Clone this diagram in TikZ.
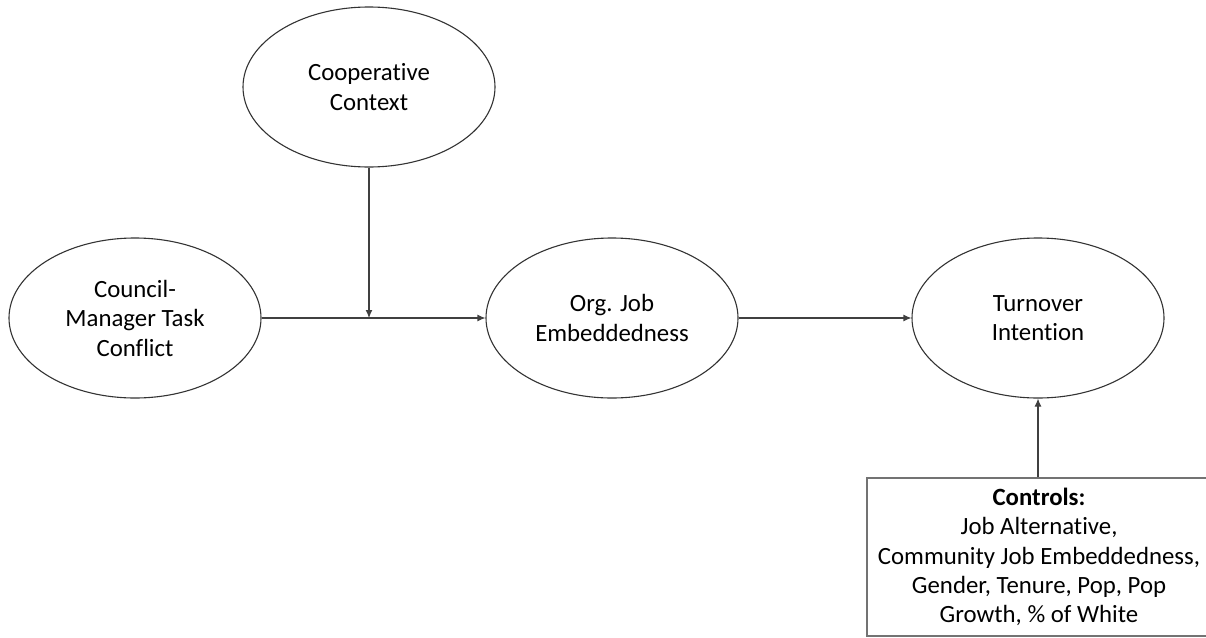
\documentclass[tikz,border=0pt]{standalone}
\usepackage{fontspec}
\setmainfont{Carlito}[Ligatures=NoCommon]
\usepackage{tikz}
\usetikzlibrary{arrows.meta,shapes.geometric}

\begin{document}
\begin{tikzpicture}[x=1pt,y=-1pt,
    construct/.style={draw=black!80,line width=1.1pt,ellipse,minimum width=252pt,minimum height=160pt,inner sep=0pt,align=center,font=\fontsize{24.8}{29.5}\selectfont},
    ctrlbox/.style={draw=black!55,line width=1.2pt,minimum width=344pt,minimum height=158pt,inner sep=0pt,align=center,font=\fontsize{24.8}{29.2}\selectfont},
    path/.style={draw=black!75,line width=1.1pt,-{Latex[length=8pt,width=7pt]}}]
        \useasboundingbox (0,0) rectangle (1206,637);
        \node[construct] (coop) at (369,87) {Cooperative\\Context};
        \node[construct] (conf) at (135,318) {Council-\\Manager Task\\Conflict};
        \node[construct] (emb) at (612,318) {Org. Job\\Embeddedness};
        \node[construct] (turn) at (1038,318) {Turnover\\Intention};
        \node[ctrlbox] (ctrl) at (1039,557) {\textbf{Controls:}\\Job Alternative,\\Community Job Embeddedness,\\Gender, Tenure, Pop, Pop\\Growth, \% of White};
        \draw[path] (conf.east) -- (emb.west);
        \draw[path] (coop.south) -- (coop.south |- conf.east);
        \draw[path] (emb.east) -- (turn.west);
        \draw[path] (ctrl.north -| turn.south) -- (turn.south);
      \end{tikzpicture}
\end{document}
